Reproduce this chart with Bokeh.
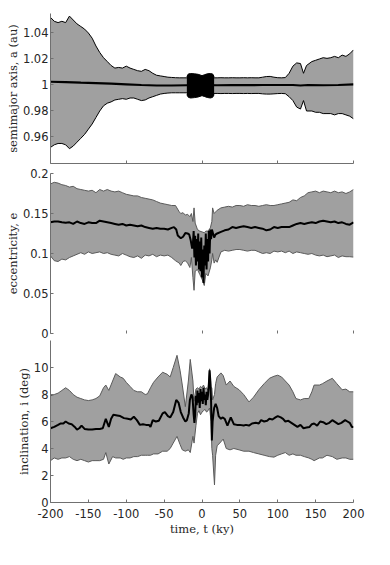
from bokeh.plotting import figure
from bokeh.layouts import column
from bokeh.models import Range1d, FixedTicker
from bokeh.embed import file_html
from bokeh.resources import INLINE

# ---------------- data: semimajor axis ----------------
t_a_env = [-200, -195, -190, -185, -180, -175, -170, -165, -160, -155, -150, -145, -140, -135, -130,
           -125, -120, -115, -110, -105, -100, -95, -90, -85, -80, -75, -70, -65, -60, -55, -50, -45,
           -40, -35, -30, -25, -20,
           15, 20, 25, 30, 35, 40, 45, 50, 55, 60, 65, 70, 75, 80, 85, 90, 95, 100, 105, 110, 115, 120,
           125, 130, 134, 138,
           145, 150, 155, 160, 165, 170, 175, 180, 185, 190, 195, 200]
a_upper = [1.052, 1.049, 1.048, 1.049, 1.048, 1.053, 1.050, 1.047, 1.045, 1.043, 1.040, 1.036, 1.030,
           1.025, 1.021, 1.018, 1.015, 1.013, 1.0135, 1.013, 1.0145, 1.013, 1.012, 1.011, 1.0105, 1.012,
           1.011, 1.009, 1.0075, 1.007, 1.0065, 1.006, 1.0058, 1.0056, 1.0055, 1.0055, 1.0055,
           1.0055, 1.0055, 1.0056, 1.0055, 1.0055, 1.0056, 1.0055, 1.0055, 1.0056, 1.0055, 1.0056, 1.0055,
           1.0055, 1.006, 1.0065, 1.0066, 1.006, 1.0056, 1.0055, 1.0057, 1.009, 1.0145, 1.017, 1.0165,
           1.009, 1.015,
           1.018, 1.019, 1.020, 1.021, 1.0205, 1.021, 1.022, 1.021, 1.023, 1.022, 1.024, 1.027]
a_lower = [0.952, 0.954, 0.955, 0.955, 0.954, 0.951, 0.953, 0.956, 0.959, 0.962, 0.966, 0.970, 0.975,
           0.980, 0.984, 0.986, 0.987, 0.9885, 0.989, 0.9895, 0.989, 0.990, 0.990, 0.989, 0.988, 0.9885,
           0.990, 0.991, 0.992, 0.993, 0.9935, 0.9938, 0.994, 0.994, 0.994, 0.994, 0.994,
           0.9935, 0.9935, 0.9934, 0.9935, 0.9935, 0.9934, 0.9935, 0.9935, 0.9934, 0.9935, 0.9934, 0.9935,
           0.9935, 0.9932, 0.993, 0.993, 0.9932, 0.9934, 0.9935, 0.9933, 0.991, 0.988, 0.983, 0.9815,
           0.988, 0.980,
           0.980, 0.979, 0.979, 0.978, 0.978, 0.978, 0.977, 0.978, 0.978, 0.977, 0.976, 0.974]
t_a_mean = [-200, -180, -160, -140, -120, -100, -80, -60, -40, -20, 0, 20, 40, 60, 80, 100, 120, 130,
            140, 160, 180, 200]
a_mean = [1.0025, 1.0022, 1.0018, 1.0015, 1.001, 1.0005, 1.0, 0.9996, 0.9996, 0.9998, 0.9999, 0.9998,
          1.0, 0.9999, 1.0, 1.0, 1.0, 0.9996, 1.0, 0.9998, 1.0, 1.0004]
t_a_blob = [-20, -18, -15, -10, -5, 0, 3, 7, 11, 14, 16]
a_blob_top = [1.0065, 1.0085, 1.0088, 1.0086, 1.0082, 1.0072, 1.0078, 1.0086, 1.0088, 1.0085, 1.0065]
a_blob_bot = [0.9925, 0.9905, 0.990, 0.9903, 0.9908, 0.9918, 0.9912, 0.9904, 0.990, 0.9905, 0.9925]

# ---------------- data: eccentricity ----------------
t_e_env = [-200, -195, -190, -185, -180, -175, -170, -165, -160, -155, -150, -145, -140, -135, -130,
           -125, -120, -115, -110, -105, -100, -95, -90, -85, -80, -75, -70, -65, -60, -55, -50, -45,
           -40, -35,
           -30, -28, -25, -22, -19, -16, -14, -12, -10.5, -9, -6, -3, 0, 3, 5, 8, 11, 13, 14, 16, 18, 20,
           25, 30, 35, 40, 45, 50, 55, 60, 65, 70, 75, 80, 85, 90, 95, 100, 105, 110, 115, 120, 125, 130,
           135, 140, 145, 150, 155, 160, 165, 170, 175, 180, 185, 190, 195, 200]
e_upper = [0.187, 0.189, 0.188, 0.186, 0.185, 0.183, 0.184, 0.181, 0.180, 0.179, 0.178, 0.179, 0.176,
           0.180, 0.178, 0.180, 0.178, 0.177, 0.178, 0.176, 0.174, 0.173, 0.172, 0.172, 0.170, 0.169,
           0.168, 0.167, 0.165, 0.163, 0.162, 0.161, 0.160, 0.160,
           0.152, 0.150, 0.151, 0.148, 0.149, 0.146, 0.150, 0.140, 0.157, 0.138, 0.130, 0.128, 0.127,
           0.126, 0.128, 0.128, 0.132, 0.140, 0.157, 0.150, 0.152, 0.154,
           0.157, 0.158, 0.159, 0.158, 0.160, 0.160, 0.159, 0.161, 0.160, 0.160, 0.159, 0.160, 0.161,
           0.160, 0.160, 0.161, 0.162, 0.163, 0.164, 0.167, 0.166, 0.170, 0.172, 0.176, 0.177, 0.178,
           0.176, 0.178, 0.177, 0.176, 0.178, 0.176, 0.177, 0.175, 0.177, 0.180]
e_lower = [0.097, 0.091, 0.090, 0.093, 0.092, 0.095, 0.097, 0.099, 0.101, 0.099, 0.102, 0.100, 0.101,
           0.102, 0.100, 0.101, 0.099, 0.098, 0.097, 0.100, 0.098, 0.096, 0.095, 0.097, 0.094, 0.098,
           0.097, 0.099, 0.096, 0.098, 0.097, 0.098, 0.095, 0.091,
           0.088, 0.085, 0.090, 0.091, 0.088, 0.0825, 0.095, 0.070, 0.054, 0.078, 0.080, 0.074, 0.068,
           0.060, 0.075, 0.072, 0.082, 0.092, 0.100, 0.088, 0.092, 0.089,
           0.102, 0.104, 0.103, 0.104, 0.105, 0.105, 0.104, 0.103, 0.104, 0.104, 0.102, 0.100, 0.101,
           0.100, 0.103, 0.102, 0.103, 0.101, 0.103, 0.100, 0.102, 0.101, 0.100, 0.099, 0.100, 0.098,
           0.097, 0.098, 0.096, 0.097, 0.098, 0.095, 0.097, 0.096, 0.096, 0.0955]
t_e_mean = [-200, -195, -190, -185, -180, -175, -170, -165, -160, -155, -150, -145, -140, -135, -130,
            -125, -120, -115, -110, -105, -100, -95, -90, -85, -80, -75, -70, -65, -60, -55, -50, -45, -40,
            -37, -34, -32, -28, -25, -22, -19, -17, -15, -13,
            -12, -11, -10, -9, -8, -7, -6, -5, -4, -3, -2, -1, 0, 1, 2, 3, 4, 5, 6, 7, 8, 9, 10, 11, 12,
            13, 14,
            16, 18, 20,
            25, 30, 35, 40, 45, 50, 55, 60, 65, 70, 75, 80, 85, 90, 95, 100, 105, 110, 115, 120, 125, 130,
            135, 140, 145, 150, 155, 160, 165, 170, 175, 180, 185, 190, 195, 200]
e_mean = [0.139, 0.140, 0.140, 0.139, 0.1385, 0.139, 0.137, 0.140, 0.138, 0.137, 0.139, 0.138, 0.138,
          0.141, 0.140, 0.139, 0.138, 0.137, 0.136, 0.137, 0.135, 0.136, 0.135, 0.134, 0.135, 0.133,
          0.132, 0.131, 0.132, 0.131, 0.131, 0.130, 0.132,
          0.133, 0.130, 0.1225, 0.119, 0.121, 0.1255, 0.125, 0.124, 0.117, 0.106,
          0.112, 0.128, 0.095, 0.122, 0.085, 0.118, 0.090, 0.125, 0.080, 0.115, 0.078, 0.120, 0.070,
          0.105, 0.063, 0.110, 0.085, 0.125, 0.080, 0.118, 0.090, 0.128, 0.100, 0.130, 0.118, 0.130,
          0.127,
          0.120, 0.124, 0.125,
          0.127, 0.129, 0.130, 0.133, 0.132, 0.133, 0.134, 0.133, 0.132, 0.133, 0.132, 0.131, 0.129,
          0.130, 0.133, 0.132, 0.133, 0.133, 0.133, 0.135, 0.137, 0.138, 0.137, 0.138, 0.139, 0.138,
          0.140, 0.141, 0.140, 0.139, 0.140, 0.138, 0.139, 0.137, 0.136, 0.139]

# ---------------- data: inclination ----------------
t_i_env = [-200, -195, -190, -185, -180, -175, -170, -165, -160, -155, -150, -145, -140, -135, -130,
           -127, -123, -118, -114, -108, -104, -100,
           -95, -90, -85, -80, -75,
           -72, -68, -64, -58, -52, -46, -42, -38, -33, -29, -26, -22, -18, -15.5, -12, -10.5, -8,
           -6, -4, -2, 0, 2, 4, 6, 8, 10, 12,
           13, 14, 16.5, 18, 20,
           25, 28, 32, 37, 42, 49, 55, 62, 68, 75, 82, 89, 95, 100, 105, 110, 115, 120, 124, 130, 135,
           141, 145, 148, 155, 159, 165, 172, 178, 185, 190, 195, 200]
i_upper = [7.9, 8.0, 8.1, 8.3, 8.5, 8.3, 8.0, 7.8, 7.7, 7.6, 7.55, 7.6, 7.7, 7.9, 8.5,
           8.7, 8.3, 9.0, 9.55, 9.3, 9.2, 8.9,
           8.6, 8.3, 8.2, 8.2, 8.0,
           8.05, 8.5, 8.9, 9.3, 9.65, 9.5, 9.3, 10.0, 10.9, 9.8, 8.7, 7.1, 9.0, 10.6, 9.0, 7.5, 8.4,
           8.5, 8.4, 8.6, 8.5, 8.7, 8.4, 8.5, 8.3, 9.9, 8.5,
           8.5, 7.6, 8.0, 8.8, 9.3,
           9.6, 9.4, 8.7, 9.0, 8.6, 8.35, 8.0, 7.45, 7.8, 8.35, 8.8, 9.2, 9.35, 9.43, 9.3, 9.0, 8.7, 8.2,
           7.7, 7.6, 7.7, 7.7, 8.2, 8.7, 8.7, 8.8, 9.0, 9.2, 8.8, 8.35, 8.4, 8.2, 8.2]
i_lower = [3.1, 3.3, 3.2, 3.3, 3.3, 3.4, 3.2, 3.1, 3.2, 3.1, 3.0, 3.1, 3.1, 3.1, 3.2,
           3.7, 2.85, 3.4, 3.3, 3.3, 3.2, 3.3,
           3.3, 3.4, 3.4, 3.5, 3.5,
           3.5, 3.5, 3.6, 3.6, 3.8, 3.8, 4.0, 4.4, 4.9, 4.3, 3.9, 3.8, 3.9, 3.7, 4.9, 4.4, 5.7,
           6.6, 6.8, 6.5, 6.7, 6.8, 6.9, 6.7, 6.8, 7.0, 6.0,
           4.0, 3.5, 1.3, 3.5, 4.2,
           4.5, 4.7, 4.0, 3.9, 4.0, 3.9, 3.8, 3.8, 3.7, 3.6, 3.5, 3.4, 3.36, 3.5, 3.6, 3.7, 3.5, 3.6,
           3.5, 3.5, 3.4, 3.3, 3.2, 3.1, 3.3, 3.3, 3.5, 3.4, 3.2, 3.3, 3.3, 3.2, 3.2]
t_i_mean = [-200, -195, -190, -187, -183, -180, -176, -172, -168, -165,
            -162, -159, -155, -150, -145, -140, -135, -131, -127, -123,
            -120, -117, -112, -108, -103, -98, -94, -90, -86, -82,
            -78, -74, -70, -68, -65, -61, -57, -52, -49, -45,
            -42, -38, -34, -31, -28, -25, -22, -20, -17.5, -16,
            -14, -12.5, -11, -10, -9, -8, -7, -6, -5, -4,
            -3, -2, -1, 0, 1, 2, 3, 4, 5, 6,
            7, 8, 9, 10, 11, 12, 13, 14, 16, 18,
            20, 22, 25, 27, 30, 33.6, 38, 42, 46, 50,
            55, 58, 62, 66, 71, 75, 78, 82, 86, 89,
            93, 97, 100, 104, 107, 110, 114, 118, 122, 126,
            130, 134, 138, 142, 145, 148, 152, 156, 160, 164,
            168, 172, 176, 180, 184, 189, 192, 195, 198, 200]
i_mean = [5.5, 5.6, 5.75, 5.85, 5.85, 6.0, 5.85, 5.8, 5.6, 5.4,
          5.5, 5.7, 5.45, 5.4, 5.4, 5.45, 5.45, 5.5, 6.2, 5.6,
          6.2, 6.5, 6.45, 6.4, 6.25, 6.2, 6.15, 6.35, 6.1, 5.75,
          5.8, 5.75, 5.75, 5.6, 6.1, 6.0, 6.05, 6.6, 6.7, 6.4,
          6.3, 6.7, 7.6, 7.4, 6.7, 6.3, 6.0, 6.1, 6.6, 7.6,
          8.0, 7.8, 6.5, 5.9, 6.5, 7.9, 7.2, 8.3, 7.4, 8.1,
          7.0, 8.4, 7.5, 8.2, 7.3, 8.5, 7.6, 8.0, 7.2, 8.2,
          7.6, 8.0, 8.7, 9.8, 9.0, 7.5, 4.6, 6.0, 7.0, 7.3,
          7.0, 6.4, 6.2, 6.3, 6.2, 5.7, 6.3, 5.8, 5.75, 5.75,
          5.7, 5.75, 5.7, 5.85, 5.9, 5.85, 6.1, 6.0, 6.05, 6.2,
          6.15, 6.3, 6.4, 6.3, 6.2, 6.0, 6.05, 5.9, 5.75, 5.6,
          5.75, 5.5, 5.55, 5.6, 5.8, 5.85, 5.7, 6.0, 5.95, 5.8,
          5.9, 6.1, 5.95, 5.8, 5.9, 6.1, 6.0, 5.9, 5.6, 5.6]

# ---------------- axes / labels ----------------
x_ticks = [-200, -150, -100, -50, 0, 50, 100, 150, 200]
x_tick_labels = ["-200", "-150", "-100", "-50", "0", "50", "100", "150", "200"]
x_ticks_upper = [-200, -100, 0, 100, 200]
a_ticks = [0.96, 0.98, 1.0, 1.02, 1.04]
a_tick_labels = ["0.96", "0.98", "1", "1.02", "1.04"]
e_ticks = [0, 0.05, 0.1, 0.15, 0.2]
e_tick_labels = ["0", "0.05", "0.1", "0.15", "0.2"]
i_ticks = [0, 2, 4, 6, 8, 10]
i_tick_labels = ["0", "2", "4", "6", "8", "10"]

FILL = "#a0a0a0"
EDGE = "#5a5a5a"
AXC = "#707070"
TXT = "#262626"
LABEL_FONT = "DejaVu Serif"
LABEL_SIZE = "11.5px"
TICK_FONT = "DejaVu Sans"
TICK_SIZE = "11.5px"


def base_fig(frame_h, yr, top, bottom, yticks, ylabels, ylabel):
    p = figure(frame_width=303, frame_height=frame_h,
               x_range=Range1d(-200, 200), y_range=Range1d(*yr),
               output_backend="svg", toolbar_location=None,
               min_border_left=50, min_border_right=25,
               min_border_top=top, min_border_bottom=bottom,
               background_fill_color="white", border_fill_color="white")
    p.xgrid.visible = False
    p.ygrid.visible = False
    p.outline_line_color = None
    ya = p.yaxis[0]
    ya.ticker = FixedTicker(ticks=yticks)
    ya.major_label_overrides = {k: v for k, v in zip(yticks, ylabels)}
    ya.major_label_text_font = TICK_FONT
    ya.major_label_text_font_size = TICK_SIZE
    ya.major_label_text_color = TXT
    ya.major_label_standoff = 2
    ya.major_tick_in = 3
    ya.major_tick_out = 0
    ya.minor_tick_in = 0
    ya.minor_tick_out = 0
    ya.axis_line_color = AXC
    ya.major_tick_line_color = AXC
    ya.axis_label = ylabel
    ya.axis_label_text_font = LABEL_FONT
    ya.axis_label_text_font_style = "normal"
    ya.axis_label_text_font_size = LABEL_SIZE
    ya.axis_label_text_color = TXT
    ya.axis_label_standoff = 0
    xa = p.xaxis[0]
    xa.axis_line_color = AXC
    xa.major_tick_line_color = AXC
    xa.major_tick_in = 3
    xa.major_tick_out = 0
    xa.minor_tick_in = 0
    xa.minor_tick_out = 0
    return p


def hide_xlabels(p):
    xa = p.xaxis[0]
    xa.ticker = FixedTicker(ticks=x_ticks_upper)
    xa.major_label_text_color = None
    xa.major_label_text_font_size = "0px"
    xa.major_label_standoff = 0


# top panel
p1 = base_fig(150, (0.9396, 1.055), 13, 5, a_ticks, a_tick_labels, "semimajor axis, a (au)")
hide_xlabels(p1)
p1.varea(x=t_a_env, y1=a_lower, y2=a_upper, fill_color=FILL)
p1.line(t_a_env, a_upper, line_color="black", line_width=1)
p1.line(t_a_env, a_lower, line_color="black", line_width=1)
p1.line(t_a_mean, a_mean, line_color="black", line_width=2.2)
p1.varea(x=t_a_blob, y1=a_blob_bot, y2=a_blob_top, fill_color="black")
p1.line(t_a_blob, a_blob_top, line_color="black", line_width=1)
p1.line(t_a_blob, a_blob_bot, line_color="black", line_width=1)

# middle panel
p2 = base_fig(160, (0, 0.2), 5, 7, e_ticks, e_tick_labels, "eccentricity, e")
hide_xlabels(p2)
p2.xaxis[0].axis_line_color = None
p2.varea(x=t_e_env, y1=e_lower, y2=e_upper, fill_color=FILL)
p2.line(t_e_env, e_upper, line_color=EDGE, line_width=1)
p2.line(t_e_env, e_lower, line_color=EDGE, line_width=1)
p2.line(t_e_mean, e_mean, line_color="black", line_width=2)

# bottom panel
p3 = base_fig(162, (0, 12), 0, 45, i_ticks, i_tick_labels, "inclination, i (deg)")
xa = p3.xaxis[0]
xa.ticker = FixedTicker(ticks=x_ticks)
xa.major_label_overrides = {k: v for k, v in zip(x_ticks, x_tick_labels)}
xa.major_label_text_font = TICK_FONT
xa.major_label_text_font_size = TICK_SIZE
xa.major_label_text_color = TXT
xa.major_label_standoff = 6
xa.axis_label = "time, t (ky)"
xa.axis_label_text_font = LABEL_FONT
xa.axis_label_text_font_style = "normal"
xa.axis_label_text_font_size = LABEL_SIZE
xa.axis_label_text_color = TXT
xa.axis_label_standoff = 1
p3.varea(x=t_i_env, y1=i_lower, y2=i_upper, fill_color=FILL)
p3.line(t_i_env, i_upper, line_color=EDGE, line_width=1)
p3.line(t_i_env, i_lower, line_color=EDGE, line_width=1)
p3.line(t_i_mean, i_mean, line_color="black", line_width=2)

layout = column(p1, p2, p3, spacing=0)
open("out.html", "w").write(file_html(layout, INLINE))
